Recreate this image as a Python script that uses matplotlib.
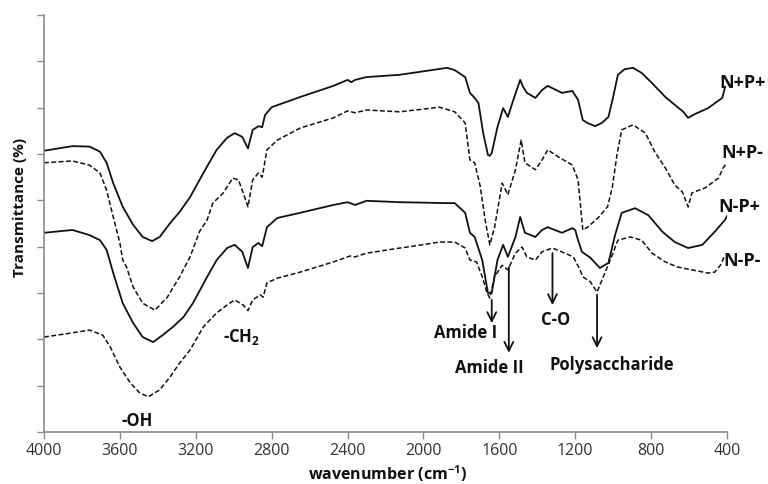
import numpy as np
import matplotlib
matplotlib.use('Agg')
import matplotlib.pyplot as plt

plt.rcParams['font.family'] = ['Open Sans', 'DejaVu Sans']
plt.rcParams['mathtext.fontset'] = 'custom'
plt.rcParams['mathtext.rm'] = 'Open Sans'
plt.rcParams['mathtext.bf'] = 'Open Sans:bold'

# N+P+ (solid, top)
wn_pp = [4000, 3850, 3760, 3705, 3670, 3635, 3585, 3530, 3480, 3430, 3390, 3335, 3285, 3230, 3160,
         3090, 3035, 2995, 2955, 2925, 2900, 2870, 2850, 2835, 2800, 2650, 2475, 2400, 2380, 2360,
         2300, 2125, 1875, 1835, 1780, 1755, 1730, 1710, 1685, 1660, 1650, 1640, 1610, 1580, 1555,
         1530, 1490, 1475, 1455, 1410, 1375, 1345, 1270, 1215, 1185, 1160, 1135, 1095, 1060, 1025,
         1000, 975, 940, 895, 850, 795, 725, 675, 630, 605, 570, 500, 425, 410]
t_pp = [6.07, 6.17, 6.16, 6.05, 5.81, 5.37, 4.86, 4.47, 4.21, 4.12, 4.21, 4.51, 4.75, 5.07, 5.59,
        6.09, 6.35, 6.45, 6.37, 6.12, 6.52, 6.60, 6.58, 6.84, 7.01, 7.23, 7.47, 7.60, 7.55, 7.60,
        7.66, 7.71, 7.86, 7.81, 7.66, 7.32, 7.21, 7.10, 6.45, 5.98, 5.96, 6.02, 6.58, 6.99, 6.80,
        7.12, 7.60, 7.45, 7.32, 7.21, 7.38, 7.47, 7.32, 7.36, 7.17, 6.73, 6.67, 6.60, 6.67, 6.80,
        7.23, 7.71, 7.83, 7.86, 7.75, 7.53, 7.23, 7.06, 6.91, 6.78, 6.86, 6.99, 7.21, 7.45]

# N+P- (dashed)
wn_pm = [4000, 3850, 3760, 3705, 3670, 3635, 3600, 3585, 3565, 3530, 3480, 3415, 3350, 3285, 3230,
         3180, 3140, 3110, 3055, 3005, 2975, 2950, 2925, 2900, 2870, 2850, 2825, 2770, 2650, 2475,
         2400, 2360, 2300, 2125, 1915, 1835, 1780, 1755, 1730, 1700, 1675, 1650, 1625, 1585, 1555,
         1515, 1485, 1465, 1410, 1375, 1345, 1290, 1215, 1185, 1160, 1135, 1080, 1030, 1005, 980,
         955, 895, 830, 780, 725, 675, 635, 605, 585, 515, 445, 420, 400]
t_pm = [5.81, 5.85, 5.76, 5.59, 5.22, 4.64, 4.08, 3.71, 3.56, 3.13, 2.78, 2.63, 2.91, 3.35, 3.78,
        4.33, 4.58, 4.94, 5.16, 5.48, 5.44, 5.16, 4.86, 5.44, 5.59, 5.50, 6.09, 6.30, 6.56, 6.78,
        6.93, 6.89, 6.95, 6.91, 7.01, 6.91, 6.67, 5.87, 5.81, 5.29, 4.58, 4.04, 4.42, 5.37, 5.12,
        5.66, 6.30, 5.81, 5.66, 5.87, 6.09, 5.94, 5.76, 5.44, 4.36, 4.42, 4.62, 4.86, 5.27, 5.98,
        6.52, 6.63, 6.45, 6.04, 5.70, 5.33, 5.18, 4.86, 5.16, 5.27, 5.48, 5.70, 5.81]

# N-P+ (solid)
wn_mp = [4000, 3850, 3760, 3705, 3670, 3635, 3585, 3530, 3480, 3425, 3375, 3320, 3265, 3215, 3140,
         3090, 3035, 2995, 2955, 2925, 2900, 2870, 2850, 2825, 2770, 2650, 2475, 2400, 2360, 2300,
         2125, 1875, 1835, 1780, 1755, 1730, 1690, 1660, 1640, 1610, 1580, 1555, 1515, 1490, 1465,
         1410, 1375, 1345, 1270, 1215, 1200, 1185, 1165, 1120, 1070, 1025, 990, 955, 885, 815,
         740, 675, 605, 530, 465, 410, 400]
t_mp = [4.30, 4.36, 4.25, 4.14, 3.93, 3.43, 2.78, 2.35, 2.05, 1.94, 2.09, 2.27, 2.48, 2.78, 3.35,
        3.71, 3.97, 4.04, 3.89, 3.54, 3.99, 4.08, 4.01, 4.42, 4.62, 4.73, 4.90, 4.96, 4.90, 4.99,
        4.96, 4.94, 4.94, 4.73, 4.30, 4.21, 3.71, 3.00, 3.00, 3.71, 4.04, 3.78, 4.21, 4.64, 4.30,
        4.21, 4.36, 4.42, 4.30, 4.40, 4.36, 4.14, 3.89, 3.76, 3.54, 3.65, 4.25, 4.73, 4.83, 4.68,
        4.32, 4.10, 3.97, 4.04, 4.32, 4.58, 4.66]

# N-P- (dashed, bottom)
wn_mm = [4000, 3850, 3760, 3690, 3650, 3600, 3545, 3495, 3450, 3390, 3335, 3285, 3230, 3160, 3090,
         3035, 2995, 2950, 2925, 2900, 2860, 2845, 2825, 2770, 2650, 2475, 2385, 2360, 2300, 2125,
         2055, 1915, 1835, 1780, 1755, 1720, 1690, 1665, 1650, 1625, 1585, 1555, 1515, 1480, 1455,
         1410, 1375, 1320, 1255, 1210, 1175, 1160, 1120, 1085, 1055, 1005, 975, 910, 850, 795,
         725, 660, 585, 500, 465, 435, 410]
t_mm = [2.05, 2.14, 2.20, 2.09, 1.83, 1.40, 1.06, 0.84, 0.76, 0.91, 1.19, 1.49, 1.77, 2.27, 2.57,
        2.74, 2.85, 2.74, 2.62, 2.85, 2.96, 2.91, 3.22, 3.32, 3.45, 3.67, 3.80, 3.78, 3.86, 3.97,
        4.01, 4.10, 4.10, 3.97, 3.71, 3.67, 3.35, 3.00, 2.89, 3.35, 3.60, 3.50, 3.86, 3.99, 3.78,
        3.71, 3.89, 3.97, 3.86, 3.78, 3.50, 3.35, 3.24, 3.02, 3.32, 3.82, 4.14, 4.21, 4.14, 3.86,
        3.67, 3.56, 3.50, 3.43, 3.45, 3.60, 3.82]

series_names = ['N+P+', 'N+P-', 'N-P+', 'N-P-']
name_pos = [(440, 7.53), (430, 6.02), (445, 4.86), (420, 3.69)]

band_labels = ['-OH', '-CH$_{\\mathbf{2}}$', 'Amide I', 'Amide II', 'C-O', 'Polysaccharide']
band_pos = [(3510, 0.24), (2960, 2.05), (1780, 2.14), (1655, 1.38), (1305, 2.42), (1005, 1.45)]

# arrows: (wavenumber, y start, y end)
arrows = [(1640, 2.85, 2.35), (1550, 3.56, 1.71), (1320, 3.86, 2.74), (1085, 2.96, 1.81)]

fig = plt.figure(figsize=(7.68, 4.84), dpi=100)
ax = fig.add_axes([44 / 768, 52 / 484, 683 / 768, 417 / 484])

dash = (0, (3.2, 1.6))
ax.plot(wn_pp, t_pp, color='#111111', lw=1.3)
ax.plot(wn_pm, t_pm, color='#111111', lw=1.1, linestyle=dash)
ax.plot(wn_mp, t_mp, color='#111111', lw=1.3)
ax.plot(wn_mm, t_mm, color='#111111', lw=1.1, linestyle=dash)

for name, (x, y) in zip(series_names, name_pos):
    ax.text(x, y, name, fontsize=13, fontweight='bold', ha='left', va='center', color='#111111')

for lab, (x, y) in zip(band_labels, band_pos):
    ax.text(x, y, lab, fontsize=12, fontweight='bold', ha='center', va='center', color='#111111')

for x, y0, y1 in arrows:
    ax.annotate('', xy=(x, y1), xytext=(x, y0),
                arrowprops=dict(arrowstyle='->', color='#111111', lw=1.3,
                                mutation_scale=16, shrinkA=0, shrinkB=0))

ax.set_xlim(4000, 400)
ax.set_ylim(0, 9)
ax.set_xticks(np.arange(4000, 399, -400))
ax.set_yticks(np.arange(0, 9.5, 1))
ax.set_yticklabels([])
for s in ['top', 'right']:
    ax.spines[s].set_visible(False)
for s in ['left', 'bottom']:
    ax.spines[s].set_color('#8a8a8a')
    ax.spines[s].set_linewidth(1.2)
ax.tick_params(axis='both', direction='out', length=5, width=1.0, color='#8a8a8a')
ax.tick_params(axis='x', labelsize=11.5, labelcolor='#333333', pad=3)

fig.text(20 / 768, 1 - 207 / 484, 'Transmittance (%)', rotation=90, fontsize=11,
         fontweight='bold', ha='center', va='center', color='#111111')
fig.text(388 / 768, 1 - 480 / 484, 'wavenumber (cm$^{\\mathbf{-1}}$)', fontsize=11.5,
         fontweight='bold', ha='center', va='baseline', color='#111111')

fig.savefig('out.png', dpi=100)
